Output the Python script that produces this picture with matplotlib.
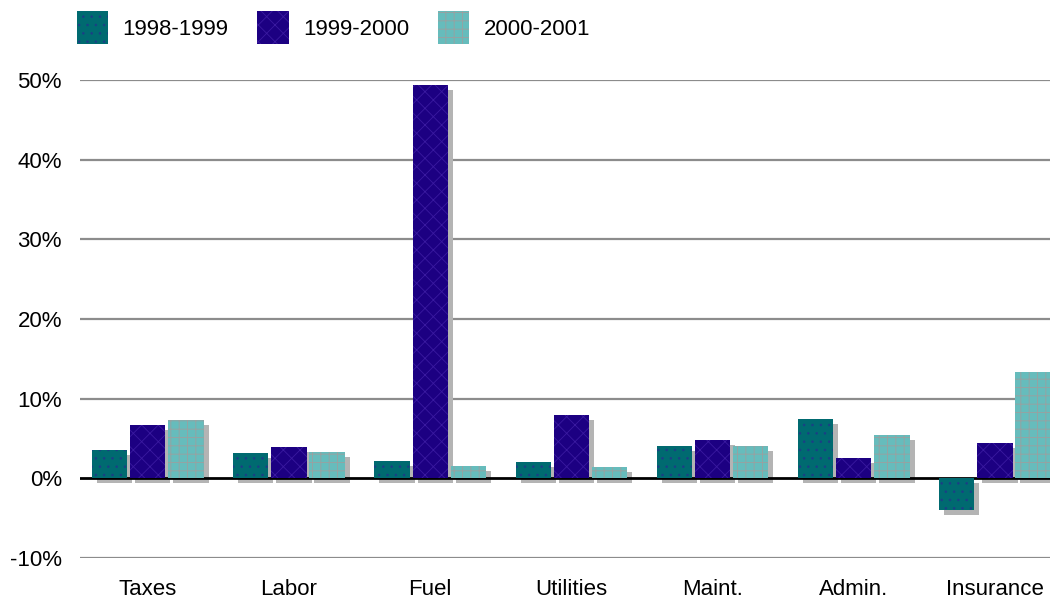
import numpy as np
import matplotlib
matplotlib.use("Agg")
import matplotlib.pyplot as plt
from matplotlib.patches import Patch
from matplotlib.transforms import ScaledTranslation

categories = ["Taxes", "Labor", "Fuel", "Utilities", "Maint.", "Admin.", "Insurance"]
series = ["1998-1999", "1999-2000", "2000-2001"]
v_9899 = [3.5, 3.2, 2.2, 2.0, 4.1, 7.4, -4.0]
v_9900 = [6.7, 3.9, 49.4, 7.9, 4.8, 2.5, 4.4]
v_0001 = [7.3, 3.3, 1.6, 1.4, 4.1, 5.4, 13.3]
yticks = [-10, 0, 10, 20, 30, 40, 50]

colors = ["#006a70", "#1c0082", "#66bcbc"]
hatch_cols = ["#1b3f86", "#3a1aa0", "#9aa0a0"]
hatches = ["..", "xx", "++"]
C_SHADOW = "#b4b4b4"

plt.rcParams["font.family"] = ["Liberation Sans", "DejaVu Sans"]
plt.rcParams["hatch.linewidth"] = 0.6

fig = plt.figure(figsize=(10.55, 6.01), dpi=100)
ax = fig.add_axes([80 / 1055, 1 - 558 / 601, 970 / 1055, 478 / 601])

x = np.arange(len(categories))
w, step = 0.25, 0.27
# drop shadow: same bars shifted 5px right / 5px down
shadow = ax.transData + ScaledTranslation(5 / 100, -5 / 100, fig.dpi_scale_trans)
for k, vals in enumerate([v_9899, v_9900, v_0001]):
    xs = x + (k - 1) * step
    ax.bar(xs, vals, width=w, color=C_SHADOW, lw=0, transform=shadow, zorder=2)
    ax.bar(xs, vals, width=w, color=colors[k], edgecolor=hatch_cols[k], lw=0,
           hatch=hatches[k], zorder=3)

for t in yticks:
    if t == 0:
        ax.axhline(0, color="black", lw=2, zorder=2.5)
    else:
        ax.axhline(t, color="#8c8c8c", lw=1.6, zorder=1)

ax.set_xlim(-0.48, 6.39)
ax.set_ylim(-10, 50)
ax.set_yticks(yticks)
ax.set_yticklabels([f"{t}%" for t in yticks], fontsize=16)
ax.set_xticks(x)
ax.set_xticklabels(categories, fontsize=16)
ax.tick_params(axis="y", length=0, pad=13)
ax.tick_params(axis="x", length=0, pad=15)
for s in ax.spines.values():
    s.set_visible(False)

handles = [Patch(facecolor=colors[k], edgecolor=hatch_cols[k], lw=0, hatch=hatches[k])
           for k in range(3)]
fig.legend(handles, series, loc="upper left", bbox_to_anchor=(77 / 1055, 1 - 11 / 601),
           ncol=3, frameon=False, fontsize=16, handlelength=1.4, handleheight=1.9,
           handletextpad=0.65, columnspacing=1.3, borderpad=0, borderaxespad=0)

fig.savefig("out.png", dpi=100)
